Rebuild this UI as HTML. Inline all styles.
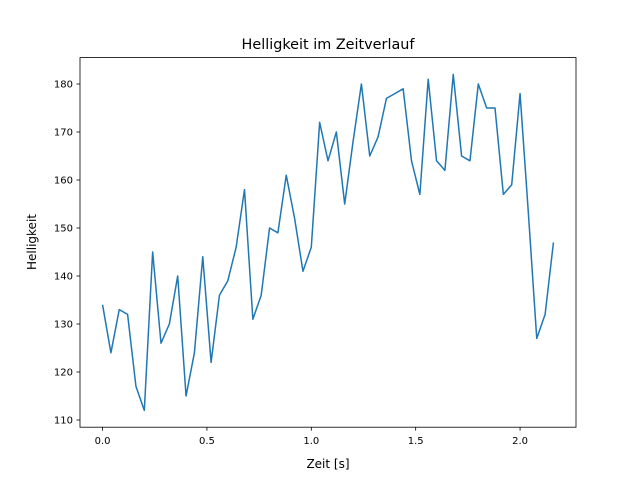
<!DOCTYPE html>
<html><head><meta charset="utf-8"><style>
body{margin:0;background:#fff;}
svg text{font-family:"DejaVu Sans","Liberation Sans",sans-serif;fill:#000;}
</style></head><body>
<svg id="chart" width="640" height="480">
<rect width="640" height="480" fill="#fff"/>
<text x="328" y="49" font-size="14.4" text-anchor="middle">Helligkeit im Zeitverlauf</text>
<text x="328" y="468" font-size="12" text-anchor="middle">Zeit [s]</text>
<text x="0" y="0" font-size="12" text-anchor="middle" transform="translate(36,242) rotate(-90)">Helligkeit</text>
<g id="ticks"></g>
<path id="line" fill="none" stroke="#1f77b4" stroke-width="1.5" stroke-linejoin="round"/>
<rect x="80" y="57.6" width="496" height="369.6" fill="none" stroke="#000" stroke-width="0.8"/>
</svg>
<script>
const values=[134,124,133,132,117,112,145,126,130,140,115,124,144,122,136,139,146,158,131,136,150,149,161,152,141,146,172,164,170,155,168,180,165,169,177,178,179,164,157,181,164,162,182,165,164,180,175,175,157,159,178,153,127,132,147];
const timeStep=0.04;
const xTicks=[0.0,0.5,1.0,1.5,2.0];
const xTickLabels=["0.0","0.5","1.0","1.5","2.0"];
const yTicks=[110,120,130,140,150,160,170,180];
const L=80,R=576,T=57.6,B=427.2;
const xs=values.map((v,i)=>i*timeStep);
const xmin=Math.min(...xs),xmax=Math.max(...xs),xpad=(xmax-xmin)*0.05;
const ymin=Math.min(...values),ymax=Math.max(...values),ypad=(ymax-ymin)*0.05;
const X=v=>L+(v-(xmin-xpad))/((xmax-xmin)+2*xpad)*(R-L);
const Y=v=>B-(v-(ymin-ypad))/((ymax-ymin)+2*ypad)*(B-T);
const ns="http://www.w3.org/2000/svg";
const g=document.getElementById('ticks');
xTicks.forEach((t,i)=>{
 const l=document.createElementNS(ns,'line');
 l.setAttribute('x1',X(t));l.setAttribute('x2',X(t));l.setAttribute('y1',B);l.setAttribute('y2',B+3.5);l.setAttribute('stroke','#000');l.setAttribute('stroke-width','0.8');
 
 
 g.appendChild(l);
 const tx=document.createElementNS(ns,'text');
 tx.setAttribute('x',X(t));tx.setAttribute('y',B+17);tx.setAttribute('font-size','10');tx.setAttribute('text-anchor','middle');
 tx.textContent=xTickLabels[i];
 
 
 g.appendChild(tx);
});
yTicks.forEach(t=>{
 const l=document.createElementNS(ns,'line');
 l.setAttribute('x1',L-3.5);l.setAttribute('x2',L);l.setAttribute('y1',Y(t));l.setAttribute('y2',Y(t));l.setAttribute('stroke','#000');l.setAttribute('stroke-width','0.8');
 
 
 g.appendChild(l);
 const tx=document.createElementNS(ns,'text');
 tx.setAttribute('x',L-7);tx.setAttribute('y',Y(t)+3.5);tx.setAttribute('font-size','10');tx.setAttribute('text-anchor','end');
 tx.textContent=String(t);
 
 
 g.appendChild(tx);
});
document.getElementById('line').setAttribute('d',values.map((v,i)=>(i?'L':'M')+X(xs[i]).toFixed(2)+','+Y(v).toFixed(2)).join(' '));
</script>
</body></html>
